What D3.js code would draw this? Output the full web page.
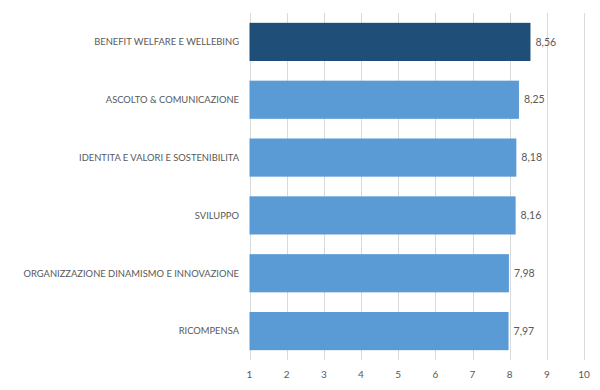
<!DOCTYPE html>
<html>
  <head>
    <meta charset="UTF-8" />
    <style>
      body { margin: 0; background: #fff; }
      text { font-family: Lato, "Open Sans", sans-serif; fill: #595959; }
    </style>
  </head>
  <body>
    <svg></svg>
    <script src="https://d3js.org/d3.v7.min.js"></script>
    <script>
      let categories = [
        "BENEFIT WELFARE E WELLEBING",
        "ASCOLTO & COMUNICAZIONE",
        "IDENTITA E VALORI E SOSTENIBILITA",
        "SVILUPPO",
        "ORGANIZZAZIONE DINAMISMO E INNOVAZIONE",
        "RICOMPENSA"
      ];
      let values = [8.56, 8.25, 8.18, 8.16, 7.98, 7.97];
      let ticks = [1, 2, 3, 4, 5, 6, 7, 8, 9, 10];

      let width = 600,
        height = 390;

      let svg = d3.select("svg").attr("width", width).attr("height", height);

      let x = d3.scaleLinear().domain([1, 10]).range([249.5, 584]);
      let y = d3
        .scaleBand()
        .domain(categories)
        .range([13, 360])
        .paddingInner(0.34)
        .paddingOuter(0.17);

      // gridlines
      svg
        .append("g")
        .selectAll("line")
        .data(ticks)
        .join("line")
        .attr("x1", (d) => Math.round(x(d)) + 0.5)
        .attr("x2", (d) => Math.round(x(d)) + 0.5)
        .attr("y1", 13)
        .attr("y2", 360)
        .attr("stroke", "#d9d9d9")
        .attr("stroke-width", 1);

      // tick labels
      svg
        .append("g")
        .selectAll("text")
        .data(ticks)
        .join("text")
        .attr("x", (d) => x(d))
        .attr("y", 378)
        .attr("text-anchor", "middle")
        .style("font-size", "10px")
        .text((d) => d);

      // bars
      svg
        .append("g")
        .selectAll("rect")
        .data(values)
        .join("rect")
        .attr("x", x(1))
        .attr("y", (d, i) => y(categories[i]))
        .attr("width", (d) => x(d) - x(1))
        .attr("height", y.bandwidth())
        .attr("fill", (d, i) => (i == 0 ? "#1f4e79" : "#5b9bd5"));

      // value labels
      svg
        .append("g")
        .selectAll("text")
        .data(values)
        .join("text")
        .attr("x", (d) => x(d) + 5)
        .attr("y", (d, i) => y(categories[i]) + y.bandwidth() / 2)
        .attr("dy", "0.35em")
        .style("font-size", "10.5px")
        .text((d) => d.toFixed(2).replace(".", ","));

      // category labels
      svg
        .append("g")
        .selectAll("text")
        .data(categories)
        .join("text")
        .attr("x", 239)
        .attr("y", (d) => y(d) + y.bandwidth() / 2)
        .attr("dy", "0.35em")
        .attr("text-anchor", "end")
        .style("font-size", "9.4px")
        .text((d) => d);
    </script>
  </body>
</html>
